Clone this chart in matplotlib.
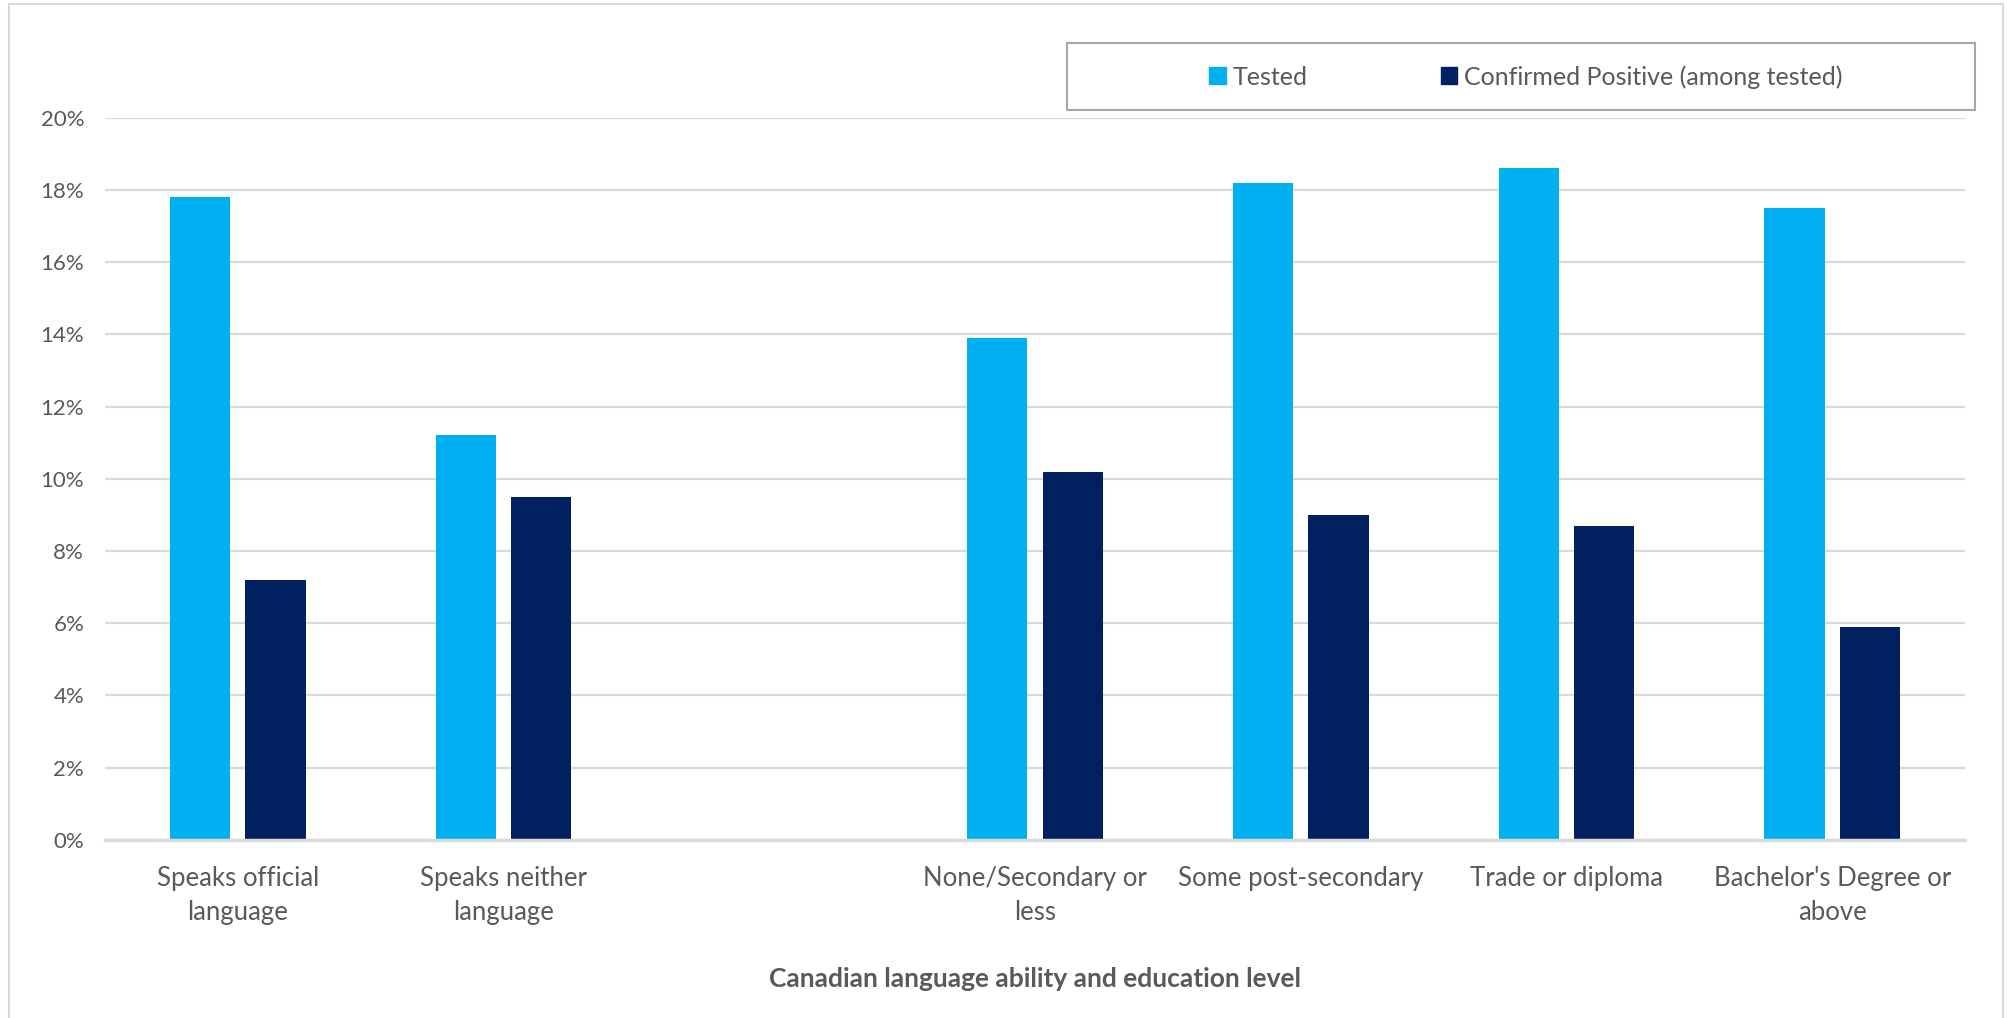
import numpy as np
import matplotlib
matplotlib.use("Agg")
import matplotlib.pyplot as plt
from matplotlib.patches import Rectangle, Patch

categories = ["Speaks official\nlanguage", "Speaks neither\nlanguage", "",
              "None/Secondary or\nless", "Some post-secondary", "Trade or diploma",
              "Bachelor's Degree or\nabove"]
tested = [17.8, 11.2, np.nan, 13.9, 18.2, 18.6, 17.5]
confirmed = [7.2, 9.5, np.nan, 10.2, 9.0, 8.7, 5.9]
yticks = [0, 2, 4, 6, 8, 10, 12, 14, 16, 18, 20]
series_names = ["Tested", "Confirmed Positive (among tested)"]

C_TESTED = "#00B0F0"
C_CONF = "#002060"
TXT = "#595959"
GRID = "#D9D9D9"

plt.rcParams['font.family'] = ['Lato', 'DejaVu Sans']

W, H = 2007, 1018
fig = plt.figure(figsize=(W / 100, H / 100), dpi=100)

# axes placement in pixels
left, right, top, bottom = 105, 1965, 117.8, 839.7
ax = fig.add_axes([left / W, 1 - bottom / H, (right - left) / W, (bottom - top) / H])

x = np.arange(len(categories))
bw = 0.227
off = 0.142
ax.bar(x - off, tested, width=bw, color=C_TESTED, zorder=3)
ax.bar(x + off, confirmed, width=bw, color=C_CONF, zorder=3)

ax.set_xlim(-0.5, len(categories) - 0.5)
ax.set_ylim(0, 20)
ax.set_yticks(yticks)
ax.set_yticklabels([f"{v}%" for v in yticks], color=TXT, fontsize=16)
ax.set_xticks(x)
ax.set_xticklabels(categories, color=TXT, fontsize=18.5, linespacing=1.45)
ax.tick_params(axis='both', length=0)
ax.tick_params(axis='y', pad=15)
ax.tick_params(axis='x', pad=19)
ax.grid(axis='y', color=GRID, linewidth=1.6, zorder=0)
ax.set_axisbelow(True)
for s in ["top", "right", "left"]:
    ax.spines[s].set_visible(False)
ax.spines["bottom"].set_color(GRID)
ax.spines["bottom"].set_linewidth(2.5)
ax.spines["bottom"].set_zorder(4)

fig.text((left + right) / 2 / W, 1 - 979 / H, "Canadian language ability and education level",
         ha="center", va="center", fontsize=19, fontweight="bold", color=TXT)

# legend box
lx0, lx1, ly0, ly1 = 1067, 1975, 43.5, 110
fig.patches.append(Rectangle((lx0 / W, 1 - ly1 / H), (lx1 - lx0) / W, (ly1 - ly0) / H,
                             transform=fig.transFigure, facecolor="white",
                             edgecolor="#A6A6A6", linewidth=1.5, zorder=5))
handles = [Patch(color=C_TESTED), Patch(color=C_CONF)]
fig.legend(handles, series_names, loc="center",
           bbox_to_anchor=(((lx0 + lx1) / 2 + 5) / W, 1 - (ly0 + ly1) / 2 / H),
           ncol=2, frameon=False, fontsize=18, labelcolor=TXT,
           handlelength=0.65, handleheight=0.65, handletextpad=0.3,
           columnspacing=5.3)

# outer border
fig.patches.append(Rectangle((9 / W, -0.01), (2003 - 9) / W, 1 - 4 / H + 0.01,
                             transform=fig.transFigure, facecolor="none",
                             edgecolor="#D9D9D9", linewidth=1.5, zorder=0))

fig.savefig("out.png", dpi=100)
